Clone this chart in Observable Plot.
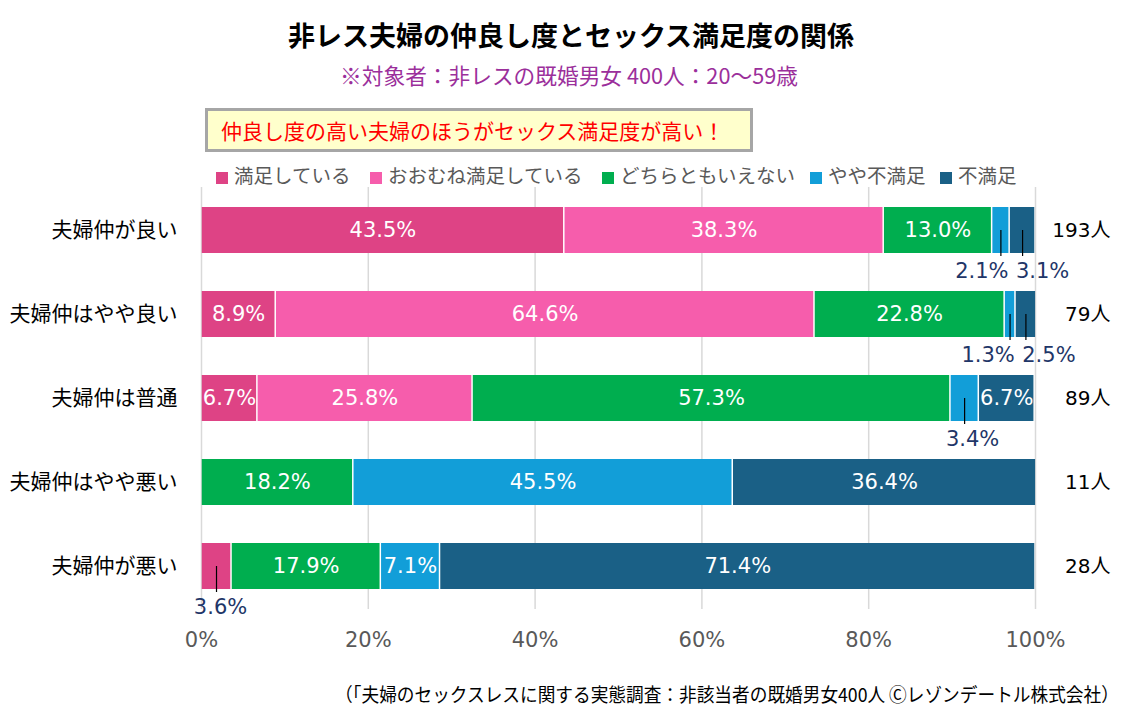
<!DOCTYPE html>
<html><head><meta charset="utf-8">
<script src="https://cdn.jsdelivr.net/npm/d3@7"></script>
<script src="https://cdn.jsdelivr.net/npm/@observablehq/plot@0.6"></script>
<style>
html,body{margin:0;padding:0;background:#fff;}
#root{position:relative;width:1127px;height:713px;overflow:hidden;font-family:"DejaVu Sans","Noto Sans CJK JP",sans-serif;}
#title{position:absolute;left:0;width:1142px;top:17px;text-align:center;font-size:27px;font-weight:bold;color:#000;line-height:36px;font-family:"Noto Sans CJK JP",sans-serif;}
#subtitle{position:absolute;left:0;width:1138px;top:62px;text-align:center;font-size:21.7px;color:#9b2f9b;line-height:26px;font-family:"Noto Sans CJK JP",sans-serif;}
#callout{position:absolute;left:205px;top:108px;width:529px;height:38px;background:#ffffcc;border:3px solid #a6a6a6;color:#ff0000;font-size:21px;line-height:38px;padding-left:13px;box-sizing:content-box;font-family:"Noto Sans CJK JP",sans-serif;}
#legend{position:absolute;top:163px;left:0;height:24px;font-size:19.5px;color:#595959;font-family:"Noto Sans CJK JP",sans-serif;}
#legend .it{position:absolute;white-space:nowrap;line-height:24px;}
#legend .sw{display:inline-block;width:12px;height:12px;margin-right:6px;vertical-align:-1px;}
#chart{position:absolute;left:0;top:187px;}
#caption{position:absolute;right:8px;top:681px;font-size:19px;color:#000;white-space:nowrap;transform:scaleX(0.93);transform-origin:right center;line-height:26px;font-family:"Noto Sans CJK JP",sans-serif;}
</style></head>
<body><div id="root">
<div id="title"></div>
<div id="subtitle"></div>
<div id="callout"></div>
<div id="legend"></div>
<div id="chart"></div>
<div id="caption"></div>
</div>
<script>
const titleText = "非レス夫婦の仲良し度とセックス満足度の関係";
const subtitleText = "※対象者：非レスの既婚男女 400人：20～59歳";
const calloutText = "仲良し度の高い夫婦のほうがセックス満足度が高い！";
const captionText = "（「夫婦のセックスレスに関する実態調査：非該当者の既婚男女400人 Ⓒレゾンデートル株式会社）";

const groups = ["夫婦仲が良い", "夫婦仲はやや良い", "夫婦仲は普通", "夫婦仲はやや悪い", "夫婦仲が悪い"];
const counts = ["193人", "79人", "89人", "11人", "28人"];
const levels = ["満足している", "おおむね満足している", "どちらともいえない", "やや不満足", "不満足"];
const satisfied   = [43.5, 8.9, 6.7, 0, 3.6];
const mostly      = [38.3, 64.6, 25.8, 0, 0];
const neutral     = [13.0, 22.8, 57.3, 18.2, 17.9];
const somewhatUn  = [2.1, 1.3, 3.4, 45.5, 7.1];
const unsatisfied = [3.1, 2.5, 6.7, 36.4, 71.4];
const xTicks = [0, 20, 40, 60, 80, 100];

// styles
const colors = ["#de4385", "#f65dac", "#00ae4f", "#129ed8", "#1a6086"];
const outsideDx = {"夫婦仲が良い|やや不満足": -19, "夫婦仲が良い|不満足": 20,
  "夫婦仲はやや良い|やや不満足": -22, "夫婦仲はやや良い|不満足": 23,
  "夫婦仲は普通|やや不満足": 8, "夫婦仲が悪い|満足している": 4};
const numFont = '"DejaVu Sans","Noto Sans CJK JP",sans-serif';

document.getElementById("title").textContent = titleText;
document.getElementById("subtitle").textContent = subtitleText;
document.getElementById("callout").textContent = calloutText;
document.getElementById("caption").textContent = captionText;

const legendX = [216, 370, 602, 810, 940];
const lg = document.getElementById("legend");
levels.forEach((l, i) => {
  const d = document.createElement("div");
  d.className = "it"; d.style.left = legendX[i] + "px";
  d.innerHTML = `<span class="sw" style="background:${colors[i]}"></span>${l}`;
  lg.appendChild(d);
});

const series = [satisfied, mostly, neutral, somewhatUn, unsatisfied];
const rows = [];
groups.forEach((g, gi) => {
  let cum = 0;
  levels.forEach((l, li) => {
    const v = series[li][gi];
    rows.push({group: g, level: l, value: v, x1: cum, x2: cum + v, mid: cum + v / 2});
    cum += v;
  });
});
const present = rows.filter(d => d.value > 0);
const inside = present.filter(d => d.value >= 5);
const outside = present.filter(d => d.value < 5);
const countRows = groups.map((g, i) => ({group: g, text: counts[i]}));

const H = 470, MB = 48;
const bw = (H - MB) / 5 * 0.545;

const plot = Plot.plot({
  width: 1127, height: H,
  marginLeft: 201, marginRight: 92, marginTop: 0, marginBottom: MB,
  style: {fontFamily: numFont, background: "white"},
  x: {domain: [0, 100], label: null},
  y: {domain: groups, paddingInner: 0.455, paddingOuter: 0.2275, label: null},
  color: {domain: levels, range: colors},
  marks: [
    Plot.gridX(xTicks, {stroke: "#d9d9d9", strokeOpacity: 1, strokeWidth: 1.5}),
    Plot.barX(present, {x1: "x1", x2: "x2", y: "group", fill: "level", insetLeft: 0.75, insetRight: 0.75}),
    Plot.text(inside, {x: "mid", y: "group", text: d => d.value.toFixed(1) + "%", fill: "white", fontSize: 21}),
    Plot.tickX(outside, {x: "mid", y: "group", stroke: "black", strokeWidth: 1.2, insetTop: bw / 2, insetBottom: -3}),
    ...outside.map(d => Plot.text([d], {x: "mid", y: "group", text: d => d.value.toFixed(1) + "%",
      fill: "#1f3668", fontSize: 21, dy: 41, dx: outsideDx[d.group + "|" + d.level] || 0})),
    Plot.text(countRows, {y: "group", text: "text", frameAnchor: "right", dx: 75, textAnchor: "end", fill: "black", fontSize: 20}),
    Plot.axisX(xTicks, {tickFormat: d => d + "%", tickSize: 0, tickPadding: 23, fontSize: 21, fill: "#595959", label: null}),
    Plot.axisY({tickSize: 0, tickPadding: 24, fontSize: 21, fill: "black", label: null, fontFamily: '"Noto Sans CJK JP",sans-serif'})
  ]
});
document.getElementById("chart").appendChild(plot);
</script>
</body></html>
